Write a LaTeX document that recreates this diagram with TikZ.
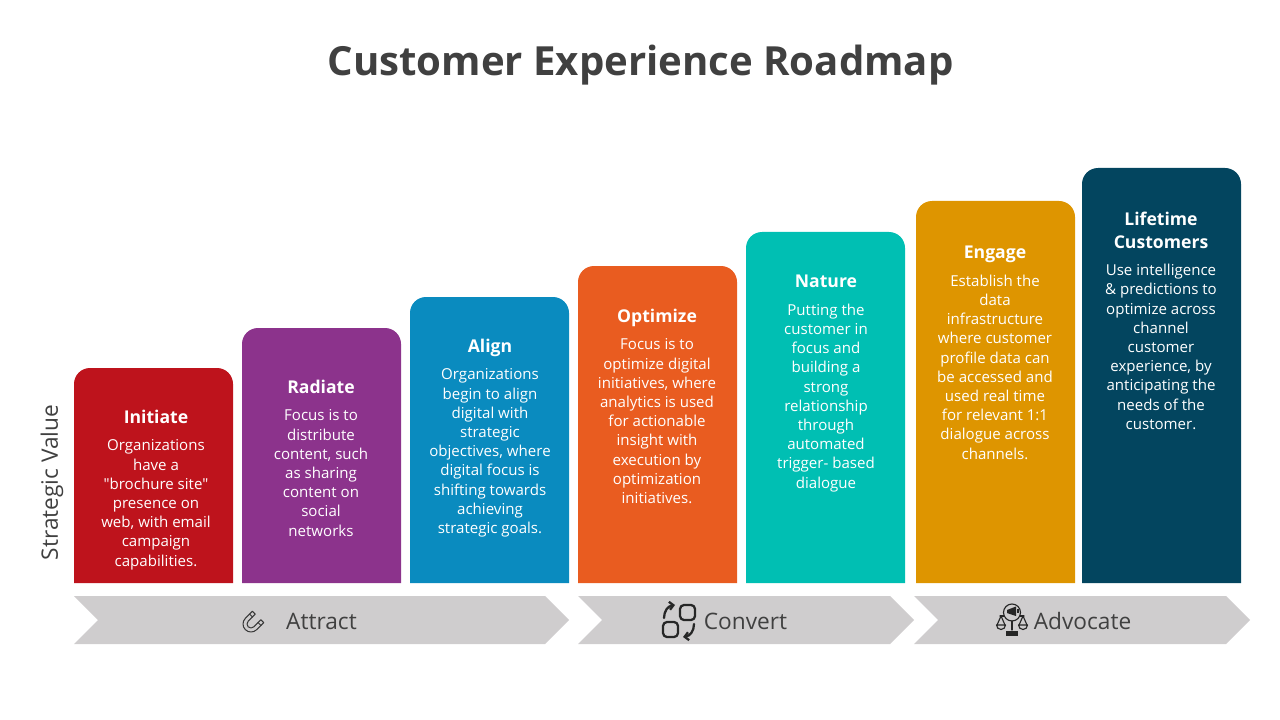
\documentclass[tikz,border=0pt]{standalone}
\usepackage{fontspec}
\setmainfont{Open Sans}
\newfontfamily\bodyfont{Open Sans}
\usepackage{xcolor}
\usetikzlibrary{
  positioning,
  arrows.meta
}
\definecolor{inkgray}{HTML}{404040}
\definecolor{bandgray}{HTML}{CFCDCE}
\definecolor{initred}{HTML}{BE131C}
\definecolor{radpurple}{HTML}{8C338C}
\definecolor{alignblue}{HTML}{0A8BBF}
\definecolor{optorange}{HTML}{E95C20}
\definecolor{natteal}{HTML}{00BFB3}
\definecolor{engamber}{HTML}{DE9500}
\definecolor{lifenavy}{HTML}{03455F}
\tikzset{
  barhead/.style={text=white,align=center,inner sep=0pt,text height=9.5pt,text depth=0pt,font=\fontsize{13.2}{17.25}\selectfont\bfseries},
  bartext/.style={text=white,align=center,inner sep=0pt,below=11.6pt of #1,font=\fontsize{11.3}{14.4}\selectfont\bodyfont},
  bandlabel/.style={text=inkgray,inner sep=0pt,font=\fontsize{17}{20}\selectfont},
  icon/.style={inkgray!85!black,line width=0.95pt,line cap=round,line join=round}
}
\begin{document}
\begin{tikzpicture}[x=0.75pt,y=-0.75pt]
  \useasboundingbox (0,0) rectangle (1280,720);

  % title
  \node[text=inkgray,font=\fontsize{30.1}{36}\selectfont\bfseries] (title) at (640.5,65) {Customer Experience Roadmap};

  % axis label
  \node[text=inkgray,rotate=90,inner sep=0pt,font=\fontsize{17}{20}\selectfont] (axis) at (52,482.5) {Strategic Value};

  % steps
  \fill[initred] (74,583) [rounded corners=12pt] |- (233,368) [sharp corners] -- (233,583) -- cycle;
  \fill[radpurple] (242,583) [rounded corners=12pt] |- (401,328) [sharp corners] -- (401,583) -- cycle;
  \fill[alignblue] (410,583) [rounded corners=12pt] |- (569,297) [sharp corners] -- (569,583) -- cycle;
  \fill[optorange] (578,583) [rounded corners=12pt] |- (737,266) [sharp corners] -- (737,583) -- cycle;
  \fill[natteal] (746,583) [rounded corners=12pt] |- (905,232) [sharp corners] -- (905,583) -- cycle;
  \fill[engamber] (916,583) [rounded corners=12pt] |- (1075,201) [sharp corners] -- (1075,583) -- cycle;
  \fill[lifenavy] (1082,583) [rounded corners=12pt] |- (1241,168) [sharp corners] -- (1241,583) -- cycle;

  % step texts
  \node[barhead] (inithead) at (156,417.5) {Initiate};
  \node[bartext=inithead] (inittext) {Organizations\\have a\\"brochure site"\\presence on\\web, with email\\campaign\\capabilities.};
  \node[barhead] (radhead) at (321,387.5) {Radiate};
  \node[bartext=radhead] (radtext) {Focus is to\\distribute\\content, such\\as sharing\\content on\\social\\networks};
  \node[barhead] (alignhead) at (490,346.5) {Align};
  \node[bartext=alignhead] (aligntext) {Organizations\\begin to align\\digital with\\strategic\\objectives, where\\digital focus is\\shifting towards\\achieving\\strategic goals.};
  \node[barhead] (opthead) at (657,316.5) {Optimize};
  \node[bartext=opthead] (opttext) {Focus is to\\optimize digital\\initiatives, where\\analytics is used\\for actionable\\insight with\\execution by\\optimization\\initiatives.};
  \node[barhead] (nathead) at (826,281.5) {Nature};
  \node[bartext=nathead] (nattext) {Putting the\\customer in\\focus and\\building a\\strong\\relationship\\through\\automated\\trigger- based\\dialogue};
  \node[barhead] (enghead) at (995,252.5) {Engage};
  \node[bartext=enghead] (engtext) {Establish the\\data\\infrastructure\\where customer\\profile data can\\be accessed and\\used real time\\for relevant 1:1\\dialogue across\\channels.};
  \node[barhead] (lifehead) at (1161,242) {Lifetime\\Customers};
  \node[bartext=lifehead] (lifetext) {Use intelligence\\\& predictions to\\optimize across\\channel\\customer\\experience, by\\anticipating the\\needs of the\\customer.};

  % bands
  \fill[bandgray] (74,596) -- (545,596) -- (569,620) -- (545,644) -- (74,644) -- (98,620) -- cycle;
  \fill[bandgray] (578,596) -- (890,596) -- (914,620) -- (890,644) -- (578,644) -- (602,620) -- cycle;
  \fill[bandgray] (914,596) -- (1226,596) -- (1250,620) -- (1226,644) -- (914,644) -- (938,620) -- cycle;
  \node[bandlabel] (attract) at (321.5,621) {Attract};
  \node[bandlabel] (convert) at (745.5,621) {Convert};
  \node[bandlabel] (advocate) at (1082.5,621) {Advocate};

  % magnet
  \begin{scope}[shift={(251,624)},rotate=-45,icon,line width=0.75pt]
    \draw (-8,-10) -- (-8,0) arc[start angle=180,delta angle=-180,radius=8] -- (8,-10) -- (4,-10) -- (4,0)
      arc[start angle=0,delta angle=180,radius=4] -- (-4,-10) -- cycle;
    \draw (-8,-6) -- (-4,-6) (8,-6) -- (4,-6);
  \end{scope}

  % converting squares
  \begin{scope}[icon,line width=1.7pt,black!85]
    \draw[rounded corners=3pt] (680,605) rectangle (695,620);
    \draw[rounded corners=3pt] (663,622) rectangle (678,637);
    \draw[-{Straight Barb[length=3pt,width=6pt]}] (664,618) .. controls (664,611) and (668,606) .. (675,605);
    \draw[-{Straight Barb[length=3pt,width=6pt]}] (694,624) .. controls (694,631) and (690,636) .. (683,637);
  \end{scope}

  % scales with megaphone
  \begin{scope}[icon,line width=0.85pt,black!85]
    \draw (1012,612.5) circle [radius=8.5];
    \fill (1007,610) -- (1016,606.5) -- (1016,616) -- (1007,613) -- cycle;
    \fill (1017,609) rectangle (1019,613);
    \draw (1012,621) -- (1012,630);
    \draw (1000,616) -- (1004,616) (1020,616) -- (1024,616);
    \fill (1006,630.5) rectangle (1018,635.5);
    \draw (1001,616) -- (997,625) (1001,616) -- (1005,625);
    \draw (1023,616) -- (1019,625) (1023,616) -- (1027,625);
    \draw (996.5,625) -- (1005.5,625) arc[start angle=0,delta angle=180,radius=4.5];
    \draw (1018.5,625) -- (1027.5,625) arc[start angle=0,delta angle=180,radius=4.5];
  \end{scope}
\end{tikzpicture}
\end{document}
